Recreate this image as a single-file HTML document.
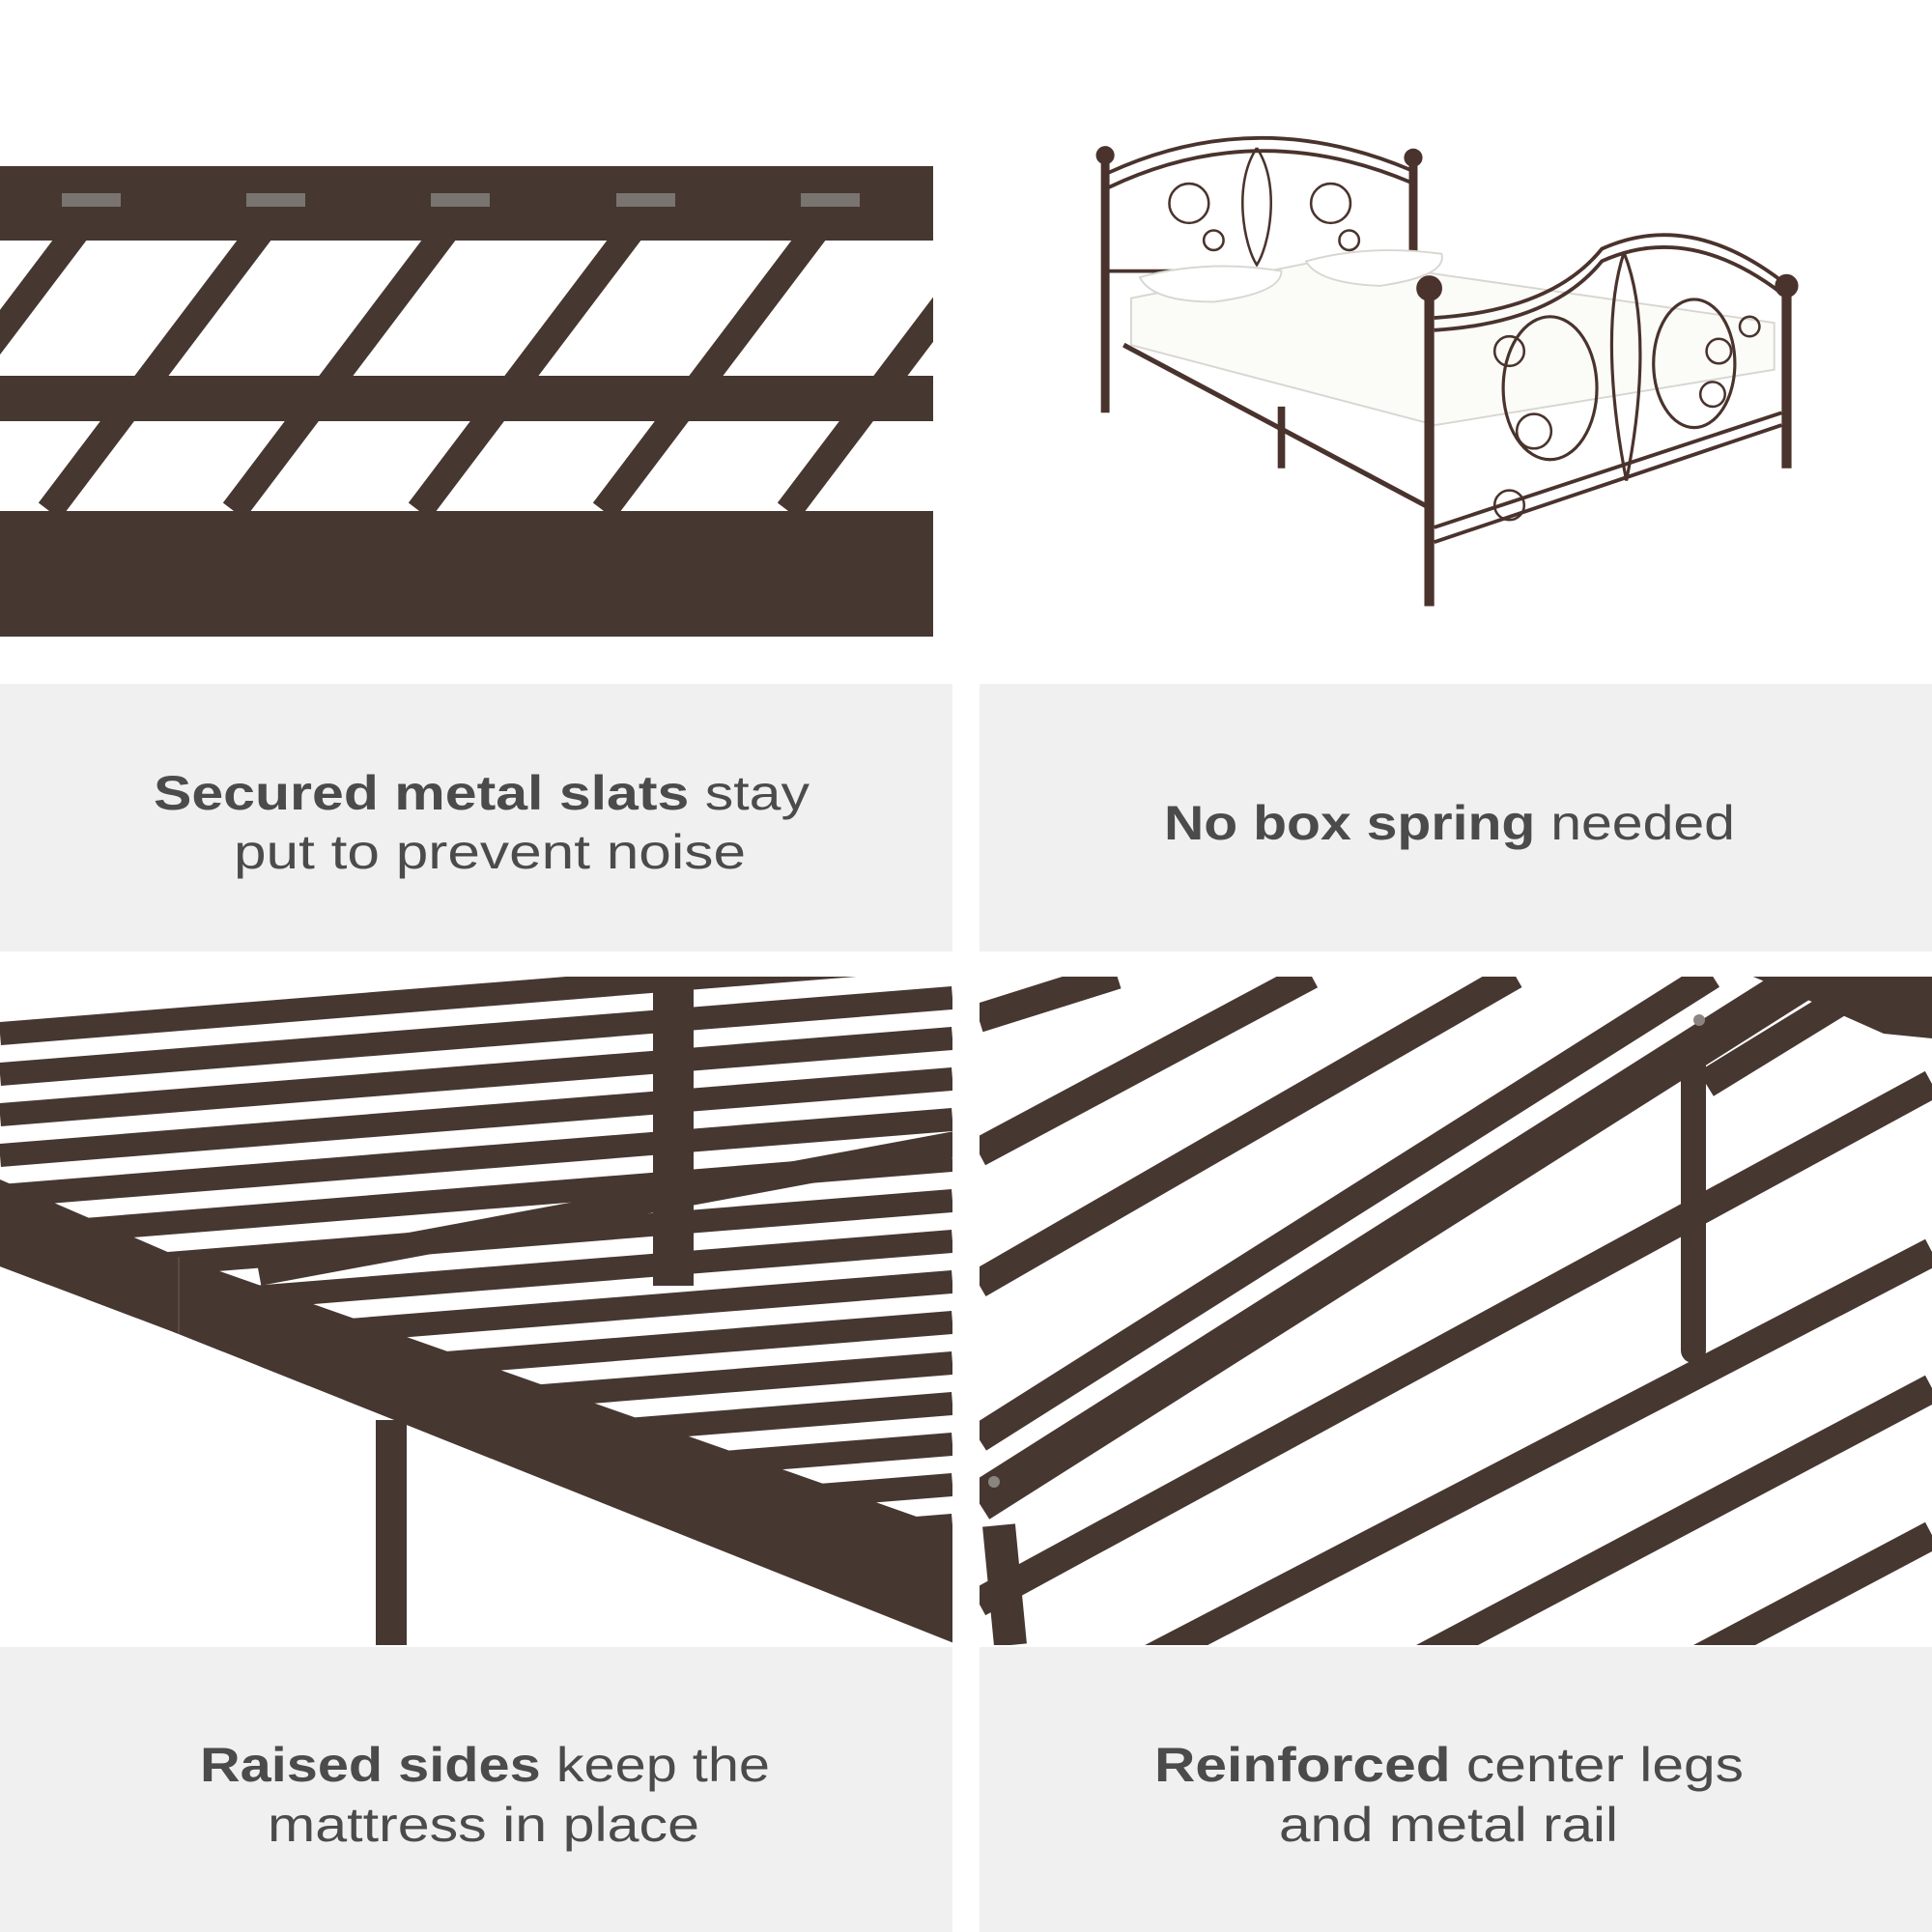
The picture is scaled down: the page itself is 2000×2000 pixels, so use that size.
<!DOCTYPE html>
<html><head><meta charset="utf-8"><style>html,body{margin:0;padding:0;background:#fff}svg{display:block}</style></head>
<body>
<svg width="2000" height="2000" viewBox="0 0 2000 2000" xmlns="http://www.w3.org/2000/svg" font-family="'Liberation Sans', sans-serif">
<rect width="2000" height="2000" fill="#fff"/>
<rect x="0" y="708" width="986" height="277" fill="#f0f0f0"/>
<rect x="1014" y="708" width="986" height="277" fill="#f0f0f0"/>
<rect x="0" y="1705" width="986" height="295" fill="#f0f0f0"/>
<rect x="1014" y="1705" width="986" height="295" fill="#f0f0f0"/>

<defs>
<clipPath id="c1"><rect x="0" y="172" width="966" height="487"/></clipPath>
<clipPath id="c2"><rect x="0" y="1011" width="986" height="692"/></clipPath>
<clipPath id="c3"><rect x="1014" y="1011" width="986" height="692"/></clipPath>
</defs>
<g clip-path="url(#c1)" fill="#463731" stroke="#463731">
<rect x="0" y="172" width="966" height="77" stroke="none"/>
<rect x="0" y="389" width="966" height="47" stroke="none"/>
<rect x="0" y="529" width="966" height="130" stroke="none"/>
<g stroke-width="28" fill="none">
<line x1="96" y1="217" x2="-140" y2="529"/>
<line x1="287" y1="217" x2="51" y2="529"/>
<line x1="478" y1="217" x2="242" y2="529"/>
<line x1="670" y1="217" x2="434" y2="529"/>
<line x1="861" y1="217" x2="625" y2="529"/>
<line x1="1052" y1="217" x2="816" y2="529"/>
</g>
<g fill="#7a7470" stroke="none">
<rect x="64" y="200" width="61" height="14"/>
<rect x="255" y="200" width="61" height="14"/>
<rect x="446" y="200" width="61" height="14"/>
<rect x="638" y="200" width="61" height="14"/>
<rect x="829" y="200" width="61" height="14"/>
</g>
</g>

<g transform="scale(1.2755)" stroke="#4a332d" fill="none" stroke-width="3">
<line x1="897" y1="130" x2="897" y2="335" stroke-width="7"/>
<circle cx="897" cy="126" r="6" fill="#4a332d"/>
<line x1="1147" y1="130" x2="1147" y2="230" stroke-width="7"/>
<circle cx="1147" cy="128" r="6" fill="#4a332d"/>
<path d="M900,152 Q1020,95 1145,148"/>
<path d="M900,140 Q1020,85 1145,138"/>
<line x1="900" y1="220" x2="1145" y2="220"/>
<path d="M1020,120 C1000,150 1010,200 1020,215 C1030,200 1040,150 1020,120" stroke-width="2"/>
<circle cx="965" cy="165" r="16" stroke-width="2"/>
<circle cx="1080" cy="165" r="16" stroke-width="2"/>
<circle cx="985" cy="195" r="8" stroke-width="2"/>
<circle cx="1095" cy="195" r="8" stroke-width="2"/>
<path d="M918,242 L1080,210 L1440,262 L1440,300 L1165,345 L918,280 Z" fill="#fbfbf8" stroke="#d8d6d0" stroke-width="1.5"/>
<path d="M925,225 Q980,210 1040,220 Q1040,238 985,245 Q935,245 925,225Z" fill="#fff" stroke="#d8d6d0" stroke-width="1.5"/>
<path d="M1060,212 Q1110,198 1170,206 Q1175,224 1120,232 Q1070,230 1060,212Z" fill="#fff" stroke="#d8d6d0" stroke-width="1.5"/>
<line x1="912" y1="280" x2="1160" y2="412" stroke-width="4"/>
<line x1="1040" y1="330" x2="1040" y2="380" stroke-width="6"/>
<line x1="1160" y1="240" x2="1160" y2="492" stroke-width="8"/>
<circle cx="1160" cy="234" r="9" fill="#4a332d"/>
<line x1="1450" y1="238" x2="1450" y2="380" stroke-width="8"/>
<circle cx="1450" cy="232" r="8" fill="#4a332d"/>
<path d="M1164,268 Q1260,262 1300,212 Q1370,180 1446,238"/>
<path d="M1164,258 Q1260,252 1300,202 Q1370,170 1446,228"/>
<line x1="1164" y1="440" x2="1446" y2="345"/>
<line x1="1164" y1="428" x2="1446" y2="335"/>
<path d="M1318,205 C1300,260 1310,340 1320,390 C1330,340 1340,260 1318,205" stroke-width="2.5"/>
<ellipse cx="1258" cy="315" rx="38" ry="58" stroke-width="2.5"/>
<ellipse cx="1375" cy="295" rx="33" ry="52" stroke-width="2.5"/>
<circle cx="1225" cy="285" r="12" stroke-width="2"/>
<circle cx="1245" cy="350" r="14" stroke-width="2"/>
<circle cx="1225" cy="410" r="12" stroke-width="2"/>
<circle cx="1395" cy="285" r="10" stroke-width="2"/>
<circle cx="1390" cy="320" r="10" stroke-width="2"/>
<circle cx="1420" cy="265" r="8" stroke-width="2"/>
</g>

<g clip-path="url(#c2)">
<rect x="676" y="1011" width="42" height="320" fill="#463731"/>
<g stroke="#463731" stroke-width="24">
<line x1="0" y1="1070" x2="986" y2="991"/>
<line x1="0" y1="1112" x2="986" y2="1033"/>
<line x1="0" y1="1154" x2="986" y2="1075"/>
<line x1="0" y1="1196" x2="986" y2="1117"/>
<line x1="0" y1="1238" x2="986" y2="1159"/>
<line x1="0" y1="1280" x2="986" y2="1201"/>
<line x1="0" y1="1322" x2="986" y2="1243"/>
<line x1="0" y1="1364" x2="986" y2="1285"/>
<line x1="0" y1="1406" x2="986" y2="1327"/>
<line x1="0" y1="1448" x2="986" y2="1369"/>
<line x1="0" y1="1490" x2="986" y2="1411"/>
<line x1="0" y1="1532" x2="986" y2="1453"/>
<line x1="0" y1="1574" x2="986" y2="1495"/>
<line x1="0" y1="1616" x2="986" y2="1537"/>
<line x1="0" y1="1658" x2="986" y2="1579"/>
</g>
<line x1="268" y1="1318" x2="1000" y2="1182" stroke="#463731" stroke-width="26"/>
<polygon points="0,1311 185,1381 986,1700 986,1703 0,1703" fill="#fff"/>
<polygon points="0,1221 185,1301 1000,1588 1000,1706 185,1381 0,1311" fill="#463731"/>
<line x1="185" y1="1301" x2="185" y2="1381" stroke="#5a4a43" stroke-width="2"/>
<rect x="389" y="1470" width="32" height="233" fill="#463731"/>
</g>

<g clip-path="url(#c3)" stroke="#463731" fill="none">
<polygon points="1810,1009 2000,1009 2000,1075 1950,1070 1860,1030" fill="#463731" stroke="none"/>
<line x1="1753" y1="1094" x2="1753" y2="1398" stroke-width="26" stroke-linecap="round"/>
<line x1="1034" y1="1579" x2="1046" y2="1703" stroke-width="34"/>
<g stroke-width="30">
<line x1="1013" y1="1054" x2="1156" y2="1009"/>
<line x1="1013" y1="1193" x2="1357" y2="1009"/>
<line x1="1013" y1="1329" x2="1568" y2="1009"/>
<line x1="1013" y1="1489" x2="1772" y2="1009"/>
<line x1="1013" y1="1659" x2="2000" y2="1122"/>
<line x1="1185" y1="1720" x2="2000" y2="1296"/>
<line x1="1466" y1="1720" x2="2000" y2="1437"/>
<line x1="1753" y1="1720" x2="2000" y2="1589"/>
<line x1="1766" y1="1122" x2="1919" y2="1028"/>
</g>
<line x1="1013" y1="1555" x2="1870" y2="1012" stroke-width="42"/>
<circle cx="1759" cy="1056" r="6" fill="#8a8580" stroke="none"/>
<circle cx="1029" cy="1534" r="6" fill="#8a8580" stroke="none"/>
</g>

<g fill="#4b4b4b" font-size="50" text-anchor="start">
<text x="159" y="838" textLength="679" lengthAdjust="spacingAndGlyphs"><tspan font-weight="bold">Secured metal slats</tspan> stay</text>
<text x="242" y="899" textLength="530" lengthAdjust="spacingAndGlyphs">put to prevent noise</text>
<text x="1205" y="869" textLength="591" lengthAdjust="spacingAndGlyphs"><tspan font-weight="bold">No box spring</tspan> needed</text>
<text x="207" y="1844" textLength="590" lengthAdjust="spacingAndGlyphs"><tspan font-weight="bold">Raised sides</tspan> keep the</text>
<text x="277" y="1906" textLength="447" lengthAdjust="spacingAndGlyphs">mattress in place</text>
<text x="1195" y="1844" textLength="610" lengthAdjust="spacingAndGlyphs"><tspan font-weight="bold">Reinforced</tspan> center legs</text>
<text x="1324" y="1906" textLength="351" lengthAdjust="spacingAndGlyphs">and metal rail</text>
</g>
</svg>
</body></html>
